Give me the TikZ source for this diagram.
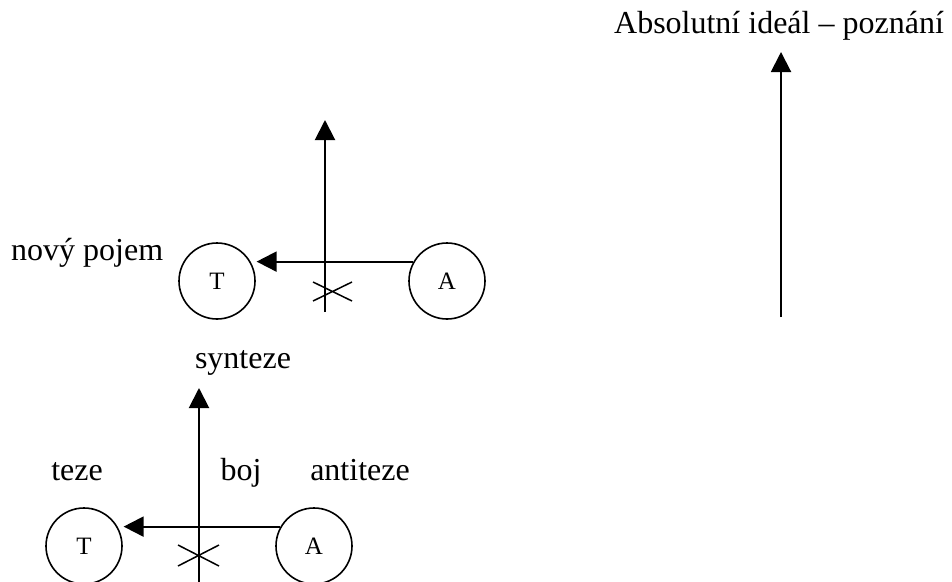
\documentclass[tikz,border=0pt]{standalone}
\usepackage{fontspec}
\setmainfont{Liberation Serif}
\usetikzlibrary{arrows.meta}
\begin{document}
\begin{tikzpicture}[x=1pt,y=-1pt,
  ln/.style={line width=2pt},
  arr/.style={ln,-{Triangle[length=20pt,width=20pt]}},
  circ/.style={circle,draw,line width=1.6pt,minimum size=76pt,inner sep=0pt,font=\fontsize{25}{28}\selectfont},
  lbl/.style={anchor=base,inner sep=0pt,font=\fontsize{32}{36}\selectfont}]
\useasboundingbox (0,0) rectangle (952,581);
% right arrow
\node[lbl] (abs) at (779,33) {Absolutní ideál – poznání};
\coordinate (r0) at (781,317);
\coordinate (r1) at (781,52);
\draw[arr] (r0) -- (r1);
% upper group
\node[circ] (T1) at (217,281) {T};
\node[circ] (A1) at (447,281) {A};
\node[lbl,anchor=base west] (novy) at (11,260) {nový pojem};
\draw[arr] (A1.150) -- ([xshift=6pt]T1.30);
\coordinate (u0) at (325,312);
\coordinate (u1) at (325,120);
\draw[arr] (u0) -- (u1);
\coordinate (ux1) at (313,282); \coordinate (ux2) at (352,301);
\coordinate (ux3) at (313,301); \coordinate (ux4) at (352,282);
\draw[line width=1.5pt] (ux1) -- (ux2) (ux3) -- (ux4);
% lower group
\node[circ] (T2) at (84,546) {T};
\node[circ] (A2) at (314,546) {A};
\node[lbl] (synt) at (243,368) {synteze};
\node[lbl] (teze) at (77,480) {teze};
\node[lbl] (boj) at (241,480) {boj};
\node[lbl] (anti) at (360,480) {antiteze};
\draw[arr] (A2.150) -- ([xshift=6pt]T2.30);
\coordinate (l0) at (199,585);
\coordinate (l1) at (199,388);
\draw[arr] (l0) -- (l1);
\coordinate (lx1) at (178,545); \coordinate (lx2) at (219,566);
\coordinate (lx3) at (178,566); \coordinate (lx4) at (219,545);
\draw[line width=1.5pt] (lx1) -- (lx2) (lx3) -- (lx4);
\end{tikzpicture}
\end{document}
